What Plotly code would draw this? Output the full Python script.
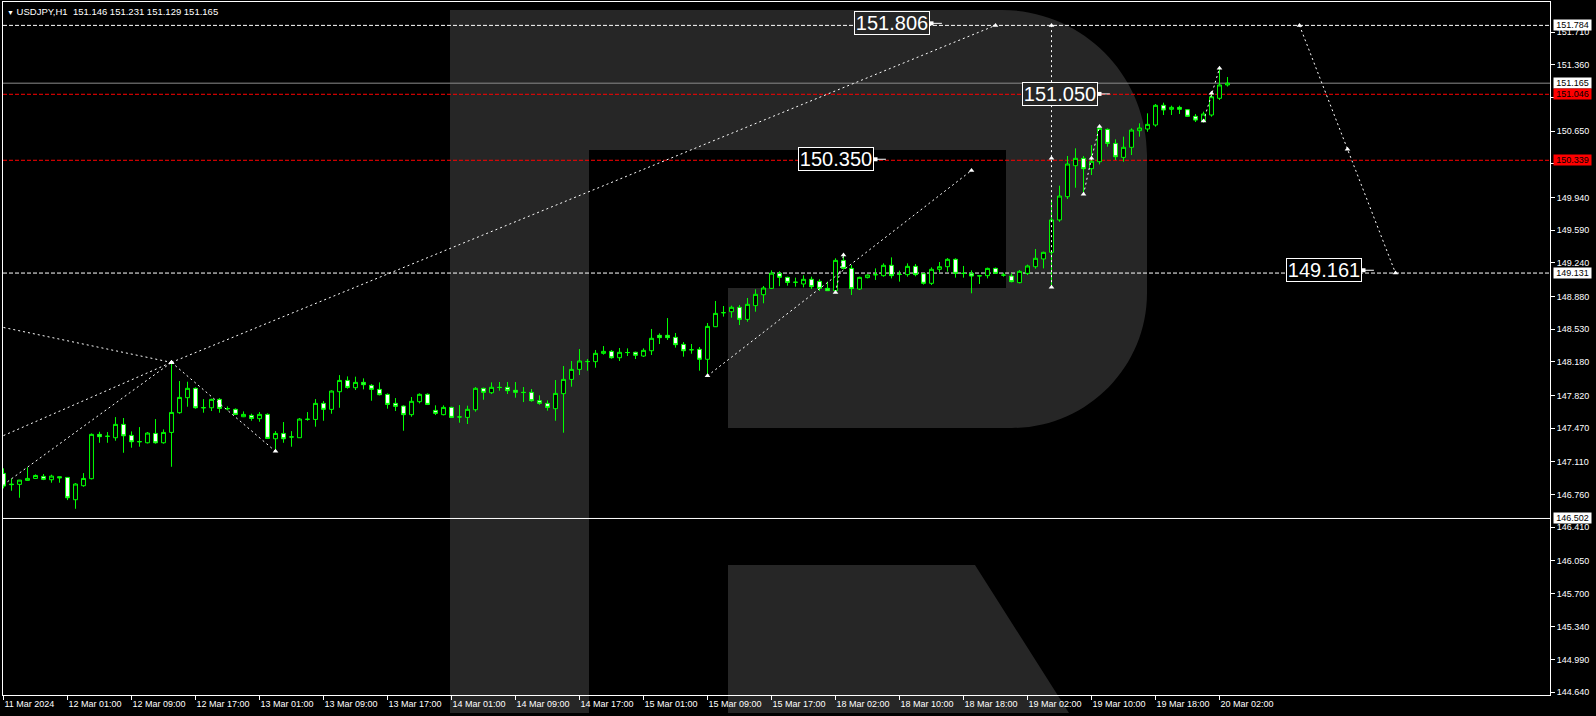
import plotly.graph_objects as go

# ---------------- data ----------------
opens = [146.985, 146.870, 146.867, 146.910, 146.931, 146.953, 146.917, 146.949, 146.942, 146.703,
         146.853, 146.928, 147.403, 147.381, 147.367, 147.510, 147.392, 147.326, 147.313, 147.413,
         147.313, 147.424, 147.635, 147.796, 147.896, 147.690, 147.688, 147.778, 147.680, 147.671,
         147.592, 147.606, 147.571, 147.617, 147.356, 147.413, 147.374, 147.367, 147.563, 147.563,
         147.735, 147.671, 147.860, 147.981, 147.903, 147.960, 147.928, 147.885, 147.831, 147.735,
         147.706, 147.614, 147.753, 147.832, 147.660, 147.614, 147.692, 147.589, 147.585, 147.667,
         147.896, 147.849, 147.907, 147.907, 147.875, 147.853, 147.853, 147.764, 147.735, 147.678,
         147.839, 147.992, 148.099, 148.182, 148.182, 148.271, 148.292, 148.224, 148.279, 148.282,
         148.242, 148.299, 148.464, 148.464, 148.442, 148.367, 148.310, 148.314, 148.207, 148.556,
         148.706, 148.717, 148.764, 148.635, 148.782, 148.899, 148.967, 149.128, 149.085, 149.031,
         149.014, 149.064, 149.042, 148.967, 148.942, 149.267, 149.181, 148.960, 149.082, 149.114,
         149.103, 149.214, 149.117, 149.114, 149.203, 149.124, 149.021, 149.171, 149.199, 149.278,
         149.128, 149.128, 149.103, 149.103, 149.181, 149.110, 149.099, 149.028, 149.128, 149.199,
         149.282, 149.353, 149.700, 149.949, 150.281, 150.360, 150.249, 150.324, 150.670, 150.520,
         150.370, 150.478, 150.656, 150.674, 150.717, 150.928, 150.885, 150.906, 150.881, 150.810,
         150.756, 150.824, 151.003, 151.146]
highs = [147.039, 146.931, 146.915, 147.049, 146.974, 146.978, 146.971, 146.950, 146.945, 146.881,
         146.988, 147.413, 147.431, 147.428, 147.588, 147.578, 147.435, 147.481, 147.428, 147.567,
         147.456, 148.174, 147.974, 147.967, 147.906, 147.781, 147.785, 147.792, 147.703, 147.681,
         147.649, 147.624, 147.642, 147.628, 147.438, 147.535, 147.438, 147.578, 147.642, 147.781,
         147.760, 147.874, 148.038, 148.024, 148.021, 148.003, 147.942, 147.960, 147.842, 147.792,
         147.714, 147.803, 147.842, 147.842, 147.714, 147.714, 147.699, 147.717, 147.710, 147.910,
         147.903, 147.960, 147.964, 147.964, 147.964, 147.910, 147.889, 147.821, 147.767, 147.985,
         148.135, 148.189, 148.317, 148.210, 148.307, 148.349, 148.307, 148.328, 148.324, 148.289,
         148.324, 148.532, 148.485, 148.649, 148.489, 148.392, 148.371, 148.339, 148.596, 148.832,
         148.778, 148.782, 148.789, 148.864, 148.957, 148.992, 149.160, 149.150, 149.092, 149.082,
         149.107, 149.092, 149.064, 149.039, 149.289, 149.314, 149.217, 149.092, 149.117, 149.181,
         149.235, 149.299, 149.157, 149.235, 149.228, 149.132, 149.192, 149.249, 149.292, 149.289,
         149.207, 149.160, 149.104, 149.189, 149.189, 149.135, 149.128, 149.164, 149.221, 149.389,
         149.360, 149.920, 150.067, 150.385, 150.467, 150.385, 150.502, 150.713, 150.681, 150.563,
         150.592, 150.681, 150.735, 150.842, 150.942, 150.956, 150.924, 150.924, 150.885, 150.835,
         150.860, 151.056, 151.342, 151.231]
lows = [146.824, 146.799, 146.724, 146.908, 146.928, 146.913, 146.885, 146.885, 146.699, 146.606,
        146.842, 146.921, 147.313, 147.313, 147.335, 147.206, 147.260, 147.271, 147.306, 147.303,
        147.303, 147.056, 147.624, 147.699, 147.678, 147.635, 147.653, 147.635, 147.660, 147.610,
        147.588, 147.549, 147.538, 147.353, 147.221, 147.313, 147.271, 147.367, 147.549, 147.485,
        147.549, 147.624, 147.688, 147.892, 147.878, 147.885, 147.763, 147.821, 147.678, 147.653,
        147.442, 147.592, 147.735, 147.717, 147.610, 147.607, 147.578, 147.528, 147.514, 147.646,
        147.774, 147.835, 147.871, 147.835, 147.796, 147.749, 147.753, 147.721, 147.657, 147.549,
        147.421, 147.914, 148.039, 148.085, 148.117, 148.257, 148.214, 148.189, 148.242, 148.210,
        148.232, 148.253, 148.371, 148.414, 148.332, 148.235, 148.267, 148.085, 148.030, 148.553,
        148.664, 148.653, 148.574, 148.610, 148.717, 148.807, 148.960, 148.990, 148.996, 148.985,
        148.978, 148.960, 148.939, 148.940, 148.914, 149.171, 148.896, 148.949, 149.074, 149.057,
        149.092, 149.074, 149.039, 149.092, 149.096, 149.007, 149.003, 149.139, 149.146, 149.082,
        149.082, 148.914, 149.014, 149.074, 149.124, 149.092, 149.031, 149.021, 149.110, 149.178,
        149.181, 148.980, 149.680, 149.924, 150.045, 149.967, 150.181, 150.295, 150.485, 150.342,
        150.324, 150.395, 150.592, 150.645, 150.699, 150.824, 150.824, 150.835, 150.806, 150.749,
        150.742, 150.806, 150.985, 151.129]
closes = [146.849, 146.865, 146.913, 146.931, 146.963, 146.921, 146.956, 146.938, 146.724, 146.871,
          146.931, 147.403, 147.378, 147.383, 147.510, 147.388, 147.324, 147.324, 147.417, 147.313,
          147.424, 147.638, 147.799, 147.896, 147.688, 147.688, 147.778, 147.681, 147.678, 147.617,
          147.617, 147.574, 147.617, 147.360, 147.413, 147.356, 147.376, 147.567, 147.565, 147.735,
          147.671, 147.867, 147.981, 147.906, 147.960, 147.935, 147.885, 147.828, 147.724, 147.703,
          147.614, 147.757, 147.832, 147.724, 147.628, 147.692, 147.585, 147.590, 147.671, 147.896,
          147.853, 147.907, 147.905, 147.871, 147.853, 147.852, 147.764, 147.735, 147.692, 147.842,
          147.992, 148.099, 148.189, 148.184, 148.271, 148.292, 148.224, 148.282, 148.280, 148.250,
          148.303, 148.432, 148.439, 148.439, 148.364, 148.299, 148.309, 148.207, 148.560, 148.699,
          148.707, 148.764, 148.635, 148.796, 148.903, 148.971, 149.130, 149.085, 149.031, 149.033,
          149.064, 148.985, 148.967, 148.942, 149.267, 149.181, 148.964, 149.085, 149.110, 149.113,
          149.214, 149.103, 149.116, 149.203, 149.114, 149.021, 149.171, 149.199, 149.278, 149.128,
          149.127, 149.099, 149.101, 149.181, 149.128, 149.109, 149.039, 149.149, 149.207, 149.289,
          149.353, 149.700, 149.956, 150.299, 150.360, 150.249, 150.328, 150.681, 150.520, 150.377,
          150.478, 150.663, 150.685, 150.724, 150.928, 150.878, 150.906, 150.885, 150.810, 150.770,
          150.835, 151.020, 151.146, 151.165]

time_labels = ["11 Mar 2024", "12 Mar 01:00", "12 Mar 09:00", "12 Mar 17:00", "13 Mar 01:00",
               "13 Mar 09:00", "13 Mar 17:00", "14 Mar 01:00", "14 Mar 09:00", "14 Mar 17:00",
               "15 Mar 01:00", "15 Mar 09:00", "15 Mar 17:00", "18 Mar 02:00", "18 Mar 10:00",
               "18 Mar 18:00", "19 Mar 02:00", "19 Mar 10:00", "19 Mar 18:00", "20 Mar 02:00"]
time_label_bars = [0, 8, 16, 24, 32, 40, 48, 56, 64, 72, 80, 88, 96, 104, 112, 120, 128, 136, 144, 152]

price_ticks = [151.710, 151.360, 151.010, 150.650, 150.300, 149.940, 149.590, 149.240, 148.880,
               148.530, 148.180, 147.820, 147.470, 147.110, 146.760, 146.410, 146.050, 145.700,
               145.340, 144.990, 144.640]
# tick labels hidden behind the red price tags in the reference
covered_ticks = [151.010, 150.300]

# horizontal levels
level_prices = [151.784, 151.165, 151.046, 150.339, 149.131, 146.502]
level_kinds = ["white_dash", "bid", "red_dash", "red_dash", "white_dash", "white_solid"]

# analyst trend lines (bar index, price)
line1_x, line1_y = [0, 21], [148.548, 148.174]
line2_x, line2_y = [0, 21], [147.390, 148.174]
line3_x, line3_y = [0.5, 21], [146.896, 148.174]
line4_x, line4_y = [21, 34], [148.174, 147.221]
line5_x, line5_y = [21, 124], [148.174, 151.784]
line6_x, line6_y = [88, 121], [148.030, 150.230]
line7_x, line7_y = [104, 105], [148.924, 149.324]
line8_x, line8_y = [131, 131, 131], [148.980, 150.360, 151.784]
line9_x, line9_y = [135, 136, 137], [149.974, 150.360, 150.700]
line10_x, line10_y = [150, 151, 152], [150.760, 151.056, 151.324]
line11_x, line11_y = [162, 168, 174], [151.784, 150.457, 149.131]

# price labels drawn on the chart
label_texts = ["151.806", "151.050", "150.350", "149.161"]
label_bars = [116, 137, 109, 170]
label_prices = [151.806, 151.050, 150.350, 149.161]

title_text = "USDJPY,H1\u00a0\u00a0151.146 151.231 151.129 151.165"

# ---------------- geometry / style ----------------
W, H = 1596, 716
ML, MR, MT, MB = 3, 46, 2, 21
PW, PH = W - ML - MR, H - MT - MB
PX_PER_BAR = 8.0
PX_PER_UNIT = 93.352
Y_REF_PRICE, Y_REF_PX = 151.710, 32.3

x_range = [-0.0625, -0.0625 + PW / PX_PER_BAR]
y_top = Y_REF_PRICE + (Y_REF_PX - MT) / PX_PER_UNIT
y_bot = Y_REF_PRICE - (MT + PH - Y_REF_PX) / PX_PER_UNIT

GREEN = "#00FF00"
LOGO = "#262626"
FONT = "Liberation Sans, Arial, sans-serif"


def pp(px, py):
    return (px - ML) / PW, (MT + PH - py) / PH


fig = go.Figure()

fig.add_trace(go.Candlestick(
    x=list(range(len(opens))), open=opens, high=highs, low=lows, close=closes,
    increasing=dict(line=dict(color=GREEN, width=1), fillcolor="#000000"),
    decreasing=dict(line=dict(color=GREEN, width=1), fillcolor="#FFFFFF"),
    whiskerwidth=0, hoverinfo="skip", showlegend=False))

segments = [(line1_x, line1_y), (line2_x, line2_y), (line3_x, line3_y), (line4_x, line4_y),
            (line5_x, line5_y), (line6_x, line6_y), (line7_x, line7_y), (line8_x, line8_y),
            (line9_x, line9_y), (line10_x, line10_y), (line11_x, line11_y)]
for sx, sy in segments:
    fig.add_trace(go.Scatter(x=sx, y=sy, mode="lines",
                             line=dict(color="white", width=1, dash="2px,3px"),
                             hoverinfo="skip", showlegend=False))

# pivot markers = end / middle points of the trend lines (except chart-edge starts)
pv_x, pv_y = [], []
for sx, sy in segments[3:]:
    pv_x += sx
    pv_y += sy
pv_x.append(line1_x[1]); pv_y.append(line1_y[1])
fig.add_trace(go.Scatter(x=pv_x, y=pv_y, mode="markers",
                         marker=dict(symbol="triangle-up", size=5, color="white"),
                         hoverinfo="skip", showlegend=False))

# little "▪—" pointers of the price labels
ptr_x, ptr_y = [], []
for b, p in zip(label_bars, label_prices):
    ptr_x += [b, b + 1.3, None]
    ptr_y += [p, p, None]
fig.add_trace(go.Scatter(x=ptr_x, y=ptr_y, mode="lines", line=dict(color="white", width=1),
                         hoverinfo="skip", showlegend=False))
fig.add_trace(go.Scatter(x=label_bars, y=label_prices, mode="markers",
                         marker=dict(symbol="square", size=4, color="white"),
                         hoverinfo="skip", showlegend=False))

shapes = []
# Logo watermark (big "R")
r1, r2 = 145, 135
k1, k2 = 0.5523 * r1, 0.5523 * r2


def P(px, py):
    a, b = pp(px, py)
    return f"{a:.5f},{b:.5f}"


path = (f"M {P(450,10)} L {P(1147-r1,10)} "
        f"C {P(1147-r1+k1,10)} {P(1147,10+r1-k1)} {P(1147,10+r1)} "
        f"L {P(1147,428-r2)} "
        f"C {P(1147,428-r2+k2)} {P(1147-r2+k2,428)} {P(1147-r2,428)} "
        f"L {P(728,428)} L {P(728,288)} L {P(1006,288)} L {P(1006,150)} L {P(589,150)} "
        f"L {P(589,713)} L {P(450,713)} Z "
        f"M {P(728,565)} L {P(975,565)} L {P(1069,713)} L {P(728,713)} Z")
shapes.append(dict(type="path", xref="paper", yref="paper", path=path,
                   fillcolor=LOGO, line=dict(width=0), layer="below"))

styles = {
    "white_dash": dict(color="#FFFFFF", width=1, dash="4px,2px"),
    "bid": dict(color="#8C8C8C", width=1),
    "red_dash": dict(color="#FF0000", width=1, dash="4px,2px"),
    "white_solid": dict(color="#FFFFFF", width=1),
}
for p, k in zip(level_prices, level_kinds):
    shapes.append(dict(type="line", xref="paper", x0=0, x1=1, yref="y", y0=p, y1=p,
                       line=styles[k], layer="below"))

annotations = []
tag_bg = {"white_dash": "#FFFFFF", "bid": "#FFFFFF", "red_dash": "#FF0000", "white_solid": "#FFFFFF"}
for p, k in zip(level_prices, level_kinds):
    annotations.append(dict(xref="paper", x=(1553 - ML) / PW, xanchor="left", yref="y", y=p,
                            yanchor="middle", text=f"{p:.3f}", showarrow=False,
                            bgcolor=tag_bg[k], font=dict(family=FONT, size=9, color="#000000"),
                            width=37, height=10, borderpad=0, align="center"))

label_bg = ["#262626", "#262626", "#000000", "#000000"]
for t, b, p, bg in zip(label_texts, label_bars, label_prices, label_bg):
    annotations.append(dict(x=b - 0.15, xanchor="right", y=p, yanchor="middle", text=t,
                            showarrow=False, font=dict(family=FONT, size=20, color="white"),
                            bgcolor=bg, bordercolor="white", borderwidth=1, borderpad=0,
                            width=74, height=22, align="center"))

annotations.append(dict(xref="paper", yref="paper", x=pp(5, 0)[0], y=pp(0, 4)[1],
                        xanchor="left", yanchor="top", showarrow=False,
                        text="<span style='font-size:7px'>\u25bc</span> " + title_text,
                        font=dict(family=FONT, size=9.5, color="white")))

fig.update_layout(
    width=W, height=H, margin=dict(l=ML, r=MR, t=MT, b=MB, pad=0, autoexpand=False),
    paper_bgcolor="#000000", plot_bgcolor="#000000", showlegend=False,
    boxgap=0.3, boxgroupgap=0.3,
    shapes=shapes, annotations=annotations,
    xaxis=dict(range=x_range, showgrid=False, zeroline=False, showline=True, linecolor="white",
               linewidth=1, mirror=True, ticks="outside", ticklen=4, tickcolor="white",
               tickvals=time_label_bars, ticktext=time_labels, ticklabelposition="outside right",
               tickfont=dict(family=FONT, size=9, color="white"),
               rangeslider=dict(visible=False), fixedrange=True),
    yaxis=dict(range=[y_bot, y_top], side="right", showgrid=False, zeroline=False,
               showline=True, linecolor="white", linewidth=1, mirror=True, ticks="outside",
               ticklen=4, tickcolor="white", tickvals=price_ticks,
               ticktext=["" if v in covered_ticks else f"{v:.3f}" for v in price_ticks],
               tickfont=dict(family=FONT, size=9, color="white"), fixedrange=True),
)

fig.write_html("out.html",
               config={"displayModeBar": False, "staticPlot": True},
               post_script="document.body.style.margin='0px';"
                           "document.body.style.overflow='hidden';"
                           "document.body.style.background='#000000';")
